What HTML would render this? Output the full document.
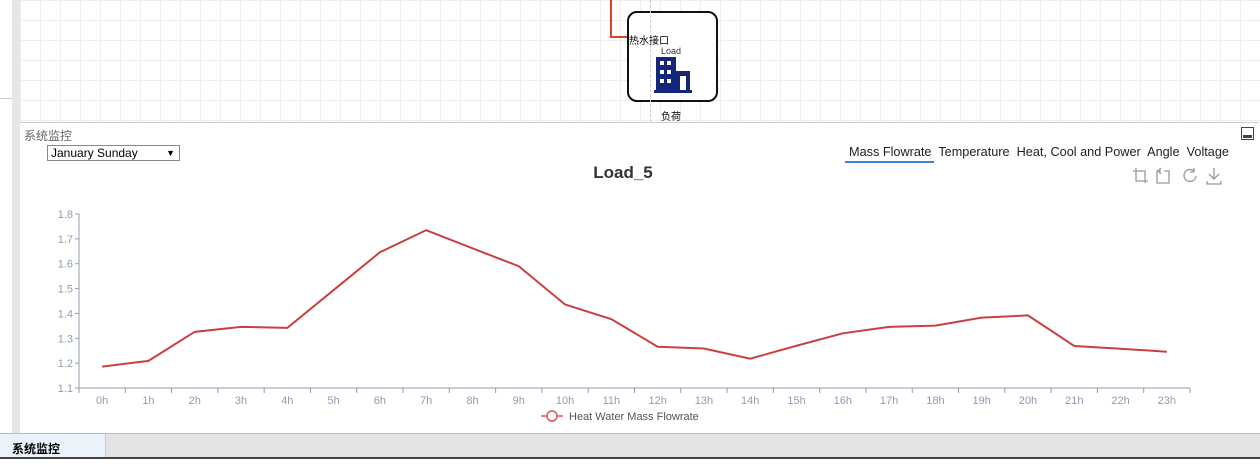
<!DOCTYPE html>
<html><head><meta charset="utf-8"><style>
body{margin:0;width:1260px;height:459px;overflow:hidden;background:#fff;font-family:"Liberation Sans","Noto Sans CJK SC",sans-serif;position:relative}
.abs{position:absolute}
</style></head><body>
<div class="abs" style="left:20px;top:0;width:1240px;height:122px;background-color:#fff;background-image:linear-gradient(#eee 1px,transparent 1px),linear-gradient(90deg,#eee 1px,transparent 1px);background-size:20px 20px"></div>
<div class="abs" style="left:0;top:0;width:12px;height:433px;background:#fff;border-right:1px solid #ddd"></div>
<div class="abs" style="left:0;top:98px;width:20px;height:1px;background:#ccc"></div>
<div class="abs" style="left:12px;top:0;width:8px;height:433px;background:#e6e6e6"></div>
<div class="abs" style="left:610px;top:0;width:2px;height:37px;background:#d9432a"></div>
<div class="abs" style="left:610px;top:36px;width:18px;height:2px;background:#d9432a"></div>
<div class="abs" style="left:627px;top:11px;width:87px;height:87px;border:2px solid #111;border-radius:10px;background:#fff"></div>
<div class="abs" style="left:650px;top:0;width:0;height:122px;border-left:1px dashed #ccc"></div>
<div class="abs" style="left:629px;top:32px;font-size:10px">热水接口</div>
<div class="abs" style="left:661px;top:46px;font-size:9px;color:#333">Load</div>
<svg class="abs" style="left:654px;top:57px" width="38" height="36"><rect x="2" y="0" width="20" height="35" fill="#14267a"/><rect x="22" y="14" width="14" height="21" fill="#14267a"/><rect x="26" y="19" width="6" height="16" fill="#fff"/><rect x="6" y="4" width="4" height="4" fill="#fff"/><rect x="13" y="4" width="4" height="4" fill="#fff"/><rect x="6" y="13" width="4" height="4" fill="#fff"/><rect x="13" y="13" width="4" height="4" fill="#fff"/><rect x="6" y="22" width="4" height="4" fill="#fff"/><rect x="13" y="22" width="4" height="4" fill="#fff"/><rect x="0" y="33" width="38" height="3" fill="#14267a"/></svg>
<div class="abs" style="left:661px;top:108px;font-size:10px">负荷</div>
<div class="abs" style="left:20px;top:122px;width:1239px;height:311px;border-top:1px solid #ccc;background:#fff"></div>
<div class="abs" style="left:24px;top:127px;font-size:12px;color:#666">系统监控</div>
<div class="abs" style="left:1241px;top:127px;width:11px;height:11px;border:1px solid #444;background:#fff"><div style="position:absolute;left:1px;bottom:1px;width:9px;height:3px;background:#444"></div></div>
<div class="abs" style="left:47px;top:145px;width:128px;height:14px;border:1px solid #888;font-size:12px;line-height:14px;padding-left:3px;box-sizing:content-box">January Sunday<span style="position:absolute;right:4px;font-size:9px">▼</span></div>
<div class="abs" style="left:849px;top:145px;font-size:12.7px;color:#222;white-space:nowrap"><span>Mass Flowrate</span>&nbsp; <span>Temperature</span>&nbsp; <span>Heat, Cool and Power</span>&nbsp; <span>Angle</span>&nbsp; <span>Voltage</span></div>
<div class="abs" style="left:845px;top:161px;width:89px;height:2px;background:#3b7fe0"></div>
<svg class="abs" style="left:1132px;top:166px" width="92" height="20" fill="none" stroke="#999" stroke-width="1.3">
<path d="M4 2v13h12M1 5h12v12"/>
<path d="M29 5h-4v12h12V5h-5M29 2l-3 3 3 3"/>
<path d="M62 5a6 6 0 1 0 2 5M62 2v4h-4"/>
<path d="M82 2v11M77 8l5 5 5-5M75 15v3h14v-3"/>
</svg>
<div class="abs" style="left:0;top:433px;width:1260px;height:24px;background:#e3e3e3;border-top:1px solid #bbb"></div>
<div class="abs" style="left:0;top:434px;width:106px;height:23px;background:#eaf2fb;border-right:1px solid #ccc;font-size:12px;font-weight:bold;line-height:30px;padding-left:12px;box-sizing:border-box">系统监控</div>
<div class="abs" style="left:0;top:457px;width:1260px;height:2px;background:#444"></div>
<svg class="abs" style="left:0;top:0" width="1260" height="459" id="chart"></svg>
<script>
const categories=["0h","1h","2h","3h","4h","5h","6h","7h","8h","9h","10h","11h","12h","13h","14h","15h","16h","17h","18h","19h","20h","21h","22h","23h"];
const values=[1.186,1.209,1.326,1.346,1.342,1.494,1.646,1.735,1.662,1.590,1.436,1.377,1.266,1.259,1.218,1.270,1.320,1.346,1.351,1.383,1.392,1.269,1.258,1.246];
const yTicks=[1.1,1.2,1.3,1.4,1.5,1.6,1.7,1.8];
const NS="http://www.w3.org/2000/svg",svg=document.getElementById('chart');
const x0=79,x1=1190,yB=388,yT=214,yMin=1.1,yMax=1.8;
const step=(x1-x0)/categories.length;
const xs=i=>x0+step*(i+0.5);
const ys=v=>yB-(v-yMin)/(yMax-yMin)*(yB-yT);
function mk(t,a,txt){const e=document.createElementNS(NS,t);for(const k in a)e.setAttribute(k,a[k]);if(txt!==undefined)e.textContent=txt;svg.appendChild(e);return e;}
let e=mk('text',{x:623,y:178,'text-anchor':'middle','font-size':17,'font-weight':'bold',fill:'#333','font-family':'Liberation Sans'},'Load_5');


e=mk('line',{x1:x0,y1:yT,x2:x0,y2:yB,stroke:'#8f9bb3'});


e=mk('line',{x1:x0,y1:yB,x2:x1,y2:yB,stroke:'#8f9bb3'});


yTicks.forEach(t=>{const y=ys(t);
e=mk('line',{x1:x0-4,y1:y,x2:x0,y2:y,stroke:'#8f9bb3'});


e=mk('text',{x:x0-6,y:y+4,'text-anchor':'end','font-size':11,fill:'#8f9bb3','font-family':'Liberation Sans'},t.toFixed(1));

});
for(let i=0;i<=categories.length;i++){e=mk('line',{x1:x0+step*i,y1:yB,x2:x0+step*i,y2:yB+5,stroke:'#8f9bb3'});

}
categories.forEach((c,i)=>{e=mk('text',{x:xs(i),y:yB+16,'text-anchor':'middle','font-size':11,fill:'#8f9bb3','font-family':'Liberation Sans'},c);

});
e=mk('polyline',{points:values.map((v,i)=>xs(i)+','+ys(v)).join(' '),fill:'none',stroke:'#c94040','stroke-width':2});


e=mk('line',{x1:541,y1:416,x2:563,y2:416,stroke:'#d15a5a','stroke-width':1.5});


e=mk('circle',{cx:552,cy:416,r:5,fill:'#fff',stroke:'#d15a5a','stroke-width':1.5});


e=mk('text',{x:569,y:420,'font-size':11,fill:'#555','font-family':'Liberation Sans'},'Heat Water Mass Flowrate');


</script>
</body></html>
